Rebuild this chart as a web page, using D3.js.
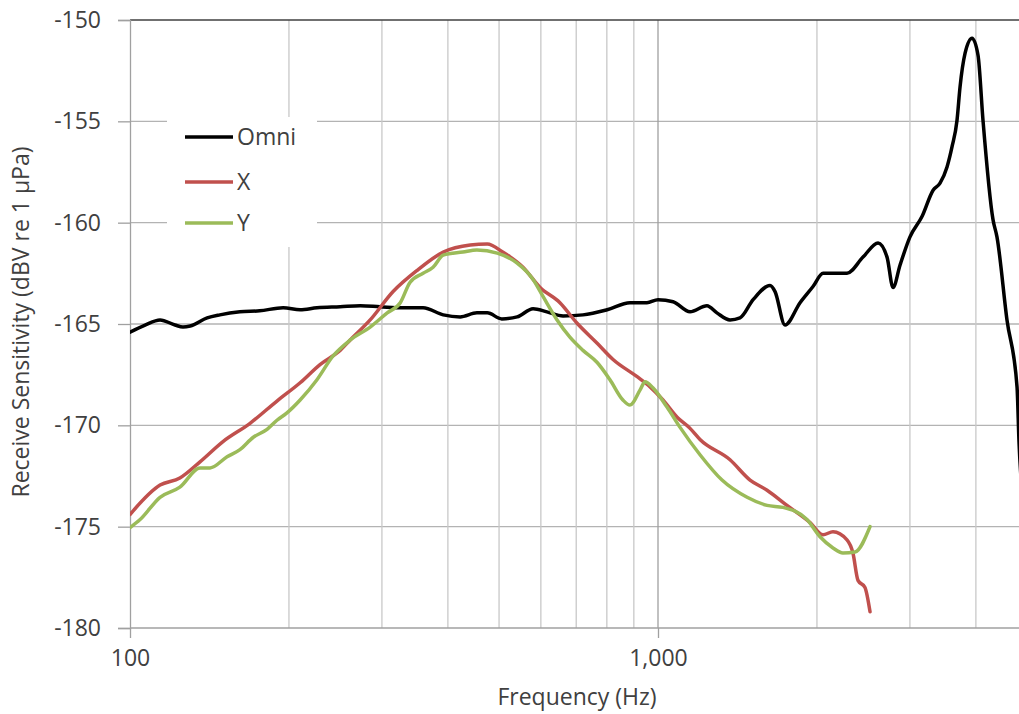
<!DOCTYPE html>
<html><head><meta charset="utf-8">
<script src="https://cdn.jsdelivr.net/npm/d3@7"></script>
<style>body{margin:0;background:#fff}svg{display:block}</style>
</head><body>
<svg id="c" width="1019" height="714"></svg>
<script>
const yTicks = [-150, -155, -160, -165, -170, -175, -180];
const xMajorTicks = [100, 1000];
const xMinorTicks = [200, 300, 400, 500, 600, 700, 800, 900, 2000, 3000, 4000];
const seriesNames = ["Omni", "X", "Y"];
const seriesColors = ["#000000", "#c0504d", "#9bbb59"];

const omniFreq = [100,106.8,114,121.7,126,130,140,148,161.5,176,195,210,226,250,273,297.5,329,359,392,422,454,475,506,541,580,616,661,721,801,885,953,1000,1068,1150,1238,1293,1369,1430,1514,1630,1666,1740,1858,1966,2054,2280,2445,2611,2715,2787,2873,3001,3162,3319,3421,3527,3605,3684,3733,3815,3934,4038,4126,4310,4385,4581,4786,4828,4900];
const omniVal = [-165.4,-165.05,-164.8,-165.05,-165.15,-165.1,-164.7,-164.55,-164.4,-164.35,-164.2,-164.3,-164.2,-164.15,-164.1,-164.15,-164.2,-164.2,-164.55,-164.65,-164.45,-164.45,-164.75,-164.65,-164.25,-164.4,-164.6,-164.55,-164.3,-163.95,-163.95,-163.8,-163.9,-164.4,-164.1,-164.45,-164.8,-164.7,-163.8,-163.1,-163.4,-165.05,-163.95,-163.15,-162.5,-162.5,-161.7,-161.0,-161.7,-163.2,-162.1,-160.7,-159.7,-158.4,-158.05,-157.25,-156.25,-154.95,-153.3,-151.65,-150.9,-151.75,-154.95,-159.85,-160.7,-164.8,-168.1,-170.85,-173.5];

const xFreq = [100,114,124.3,135.7,150,168.8,189.8,210,229,250,261,285,315,350,392,441,475,508,555,598,652,702,767,822,913,966,1022,1087,1150,1201,1369,1494,1609,1755,1941,2054,2145,2280,2340,2392,2466,2521];
const xVal = [-174.4,-172.95,-172.6,-171.8,-170.8,-169.9,-168.8,-167.9,-167.0,-166.3,-165.8,-164.8,-163.4,-162.35,-161.45,-161.1,-161.05,-161.45,-162.2,-163.2,-163.95,-164.95,-165.95,-166.75,-167.6,-168.1,-168.75,-169.6,-170.15,-170.7,-171.7,-172.7,-173.2,-173.95,-174.8,-175.4,-175.25,-175.65,-176.3,-177.65,-178.0,-179.2];

const yFreq = [100,104.5,114,124.3,135.7,141.8,152.7,161.5,171,181.8,189.8,198,210,226,242,261,285,307,325,339,359,375,392,427,454,496,541,580,606,644,681,721,767,811,858,885,925,945,978,1040,1101,1201,1322,1475,1609,1725,1915,2027,2145,2240,2361,2521];
const yVal = [-175.05,-174.65,-173.55,-173.05,-172.1,-172.1,-171.55,-171.2,-170.6,-170.2,-169.75,-169.4,-168.75,-167.75,-166.6,-165.8,-165.15,-164.45,-163.95,-162.95,-162.5,-162.2,-161.6,-161.45,-161.35,-161.5,-162.0,-162.8,-163.65,-164.8,-165.65,-166.3,-166.9,-167.75,-168.75,-169.0,-168.25,-167.85,-168.15,-169.1,-170.1,-171.45,-172.7,-173.55,-173.95,-174.05,-174.65,-175.5,-176.05,-176.3,-176.25,-175.0];

const series = [
  {name: seriesNames[0], color: seriesColors[0], pts: omniFreq.map((f,i)=>[f, omniVal[i]])},
  {name: seriesNames[1], color: seriesColors[1], pts: xFreq.map((f,i)=>[f, xVal[i]])},
  {name: seriesNames[2], color: seriesColors[2], pts: yFreq.map((f,i)=>[f, yVal[i]])}
];

const L = 130, T = 20, B = 628, R = 1019;
const x = d3.scaleLog().domain([100, 1000]).range([L, 658]);
const y = d3.scaleLinear().domain([-180, -150]).range([B, T]);

const svg = d3.select("#c");
const font = "'Open Sans', 'Liberation Sans', sans-serif";
const txt = "#404040";
const fs = 23;

// grid
const g = svg.append("g");
g.selectAll(".hg").data(yTicks.filter(v => v > -180 && v < -150)).join("line")
  .attr("x1", L).attr("x2", R).attr("y1", d => y(d)).attr("y2", d => y(d))
  .attr("stroke", "#b3b3b3").attr("stroke-width", 1.3);
g.selectAll(".vg").data(xMinorTicks).join("line")
  .attr("x1", d => x(d)).attr("x2", d => x(d)).attr("y1", T).attr("y2", B)
  .attr("stroke", "#c8c8c8").attr("stroke-width", 1.3);
g.selectAll(".vM").data(xMajorTicks.filter(d => d > 100)).join("line")
  .attr("x1", d => x(d)).attr("x2", d => x(d)).attr("y1", T).attr("y2", B)
  .attr("stroke", "#a0a0a0").attr("stroke-width", 1.3);
// top line
g.append("line").attr("x1", L).attr("x2", R).attr("y1", T).attr("y2", T)
  .attr("stroke", "#404040").attr("stroke-width", 1.5);

// axes
const yAxis = d3.axisLeft(y).tickValues(yTicks).tickSize(12).tickFormat(d3.format("d"));
const ya = svg.append("g").attr("transform", `translate(${L},0)`).call(yAxis);
ya.select(".domain").attr("stroke", "#a0a0a0").attr("stroke-width", 1.3);
ya.selectAll(".tick line").attr("stroke", "#a0a0a0").attr("stroke-width", 1.3);
ya.selectAll(".tick text").attr("font-family", font).attr("font-size", fs).attr("fill", txt)
  .attr("x", -29).text(d => "-" + Math.abs(d));

const xAxis = d3.axisBottom(x).tickValues(xMajorTicks).tickSize(10).tickFormat(d3.format(","));
const xa = svg.append("g").attr("transform", `translate(0,${B})`).call(xAxis);
xa.select(".domain").remove();
xa.append("line").attr("x1", L).attr("x2", R).attr("stroke", "#a0a0a0").attr("stroke-width", 1.3);
xa.selectAll(".tick line").attr("stroke", "#a0a0a0").attr("stroke-width", 1.3);
xa.selectAll(".tick text").attr("font-family", font).attr("font-size", fs).attr("fill", txt).attr("y", 22);

// titles
svg.append("text").attr("x", 577).attr("y", 705).attr("text-anchor", "middle")
  .attr("font-family", font).attr("font-size", fs).attr("fill", txt).text("Frequency (Hz)");
svg.append("text").attr("transform", "translate(29,322) rotate(-90)").attr("text-anchor", "middle")
  .attr("font-family", font).attr("font-size", fs).attr("fill", txt).text("Receive Sensitivity (dBV re 1 µPa)");

// lines
svg.append("clipPath").attr("id", "clip").append("rect").attr("x", L).attr("y", T - 5).attr("width", R - L).attr("height", B - T + 10);
const line = d3.line().x(d => x(d[0])).y(d => y(d[1])).curve(d3.curveMonotoneX);
svg.append("g").attr("clip-path", "url(#clip)").selectAll("path").data(series).join("path")
  .attr("d", d => line(d.pts)).attr("fill", "none").attr("stroke", d => d.color)
  .attr("stroke-width", 3.5).attr("stroke-linejoin", "round").attr("stroke-linecap", "round");

// legend
const lg = svg.append("g");
lg.append("rect").attr("x", 167).attr("y", 117).attr("width", 150).attr("height", 130).attr("fill", "#fff");
const ly = [137, 182, 223];
series.forEach((s, i) => {
  lg.append("line").attr("x1", 185).attr("x2", 233).attr("y1", ly[i]).attr("y2", ly[i])
    .attr("stroke", s.color).attr("stroke-width", 3.5);
  lg.append("text").attr("x", 237).attr("y", ly[i]).attr("dy", "0.35em")
    .attr("font-family", font).attr("font-size", fs).attr("fill", txt).text(s.name);
});
</script>
</body></html>
